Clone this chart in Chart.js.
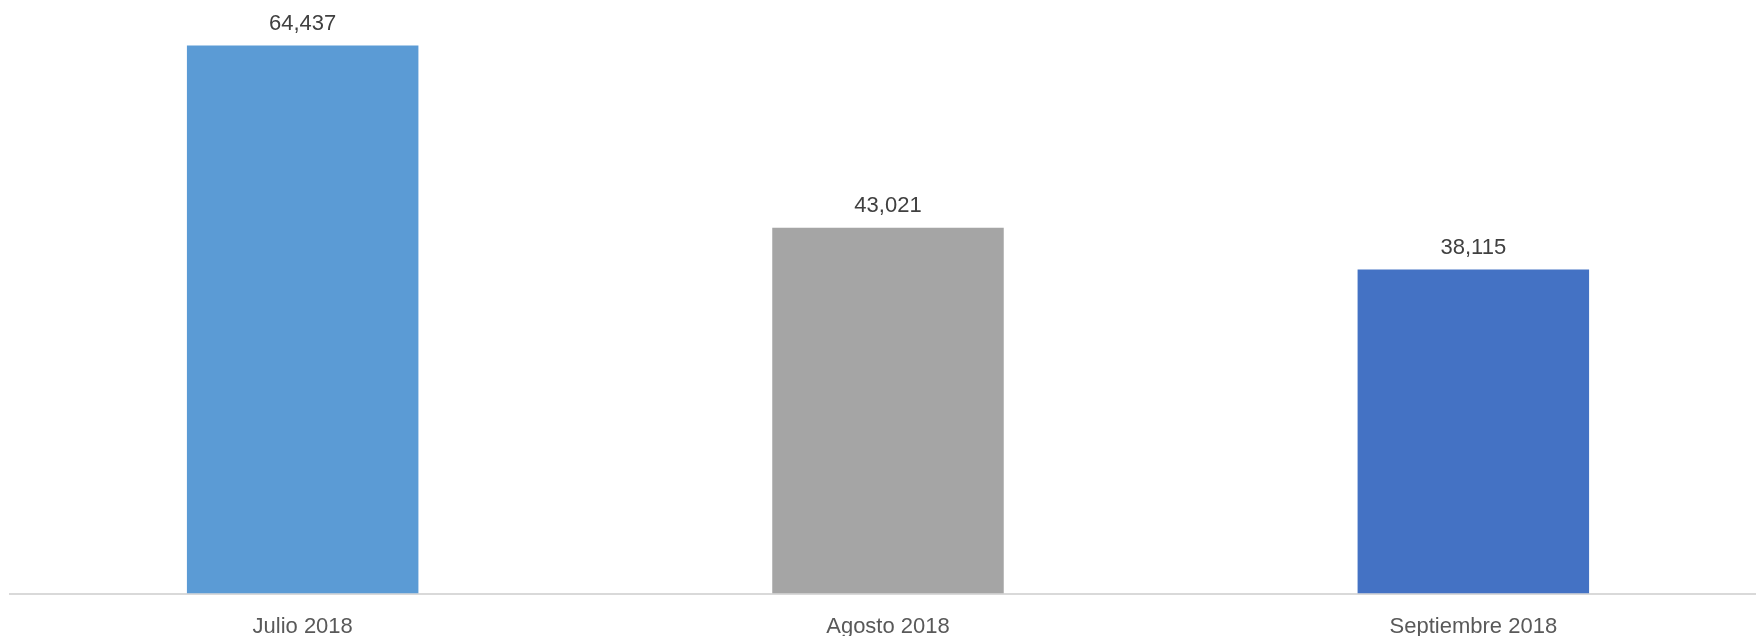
<!DOCTYPE html>
<html>
<head>
<meta charset="utf-8">
<script src="https://cdn.jsdelivr.net/npm/chart.js@4/dist/chart.umd.min.js"></script>
<style>
html,body{margin:0;padding:0;background:#fff;overflow:hidden;width:1756px;height:636px;}
#wrap{width:1766px;height:636px;}
</style>
</head>
<body>
<div id="wrap"><canvas id="c" width="1766" height="636"></canvas></div>
<script>
const categories = ["Julio 2018", "Agosto 2018", "Septiembre 2018"];
const values = [64437, 43021, 38115];
const barColors = ["#5B9BD5", "#A5A5A5", "#4472C4"];

const valueLabels = {
  id: 'valueLabels',
  afterDatasetsDraw(chart) {
    const ctx = chart.ctx;
    const meta = chart.getDatasetMeta(0);
    ctx.save();
    ctx.font = '22px "Liberation Sans", Arial, sans-serif';
    ctx.fillStyle = '#404040';
    ctx.textAlign = 'center';
    ctx.textBaseline = 'middle';
    meta.data.forEach((bar, i) => {
      ctx.fillText(values[i].toLocaleString('en-US'), bar.x, bar.y - 22);
    });
    ctx.restore();
  }
};

new Chart(document.getElementById('c'), {
  type: 'bar',
  data: {
    labels: categories,
    datasets: [{
      data: values,
      backgroundColor: barColors,
      borderWidth: 0,
      categoryPercentage: 1,
      barPercentage: 0.3955
    }]
  },
  options: {
    responsive: false,
    animation: false,
    layout: { padding: { left: 10, right: 0, top: 0, bottom: -24 } },
    plugins: { legend: { display: false }, tooltip: { enabled: false } },
    scales: {
      x: {
        grid: { display: true, drawOnChartArea: false, drawTicks: false },
        border: { display: true, color: '#D9D9D9', width: 2 },
        ticks: {
          padding: 20,
          color: '#595959',
          font: { family: '"Liberation Sans", Arial, sans-serif', size: 22 }
        }
      },
      y: {
        display: false,
        min: 0,
        max: 69800
      }
    }
  },
  plugins: [valueLabels]
});
</script>
</body>
</html>
